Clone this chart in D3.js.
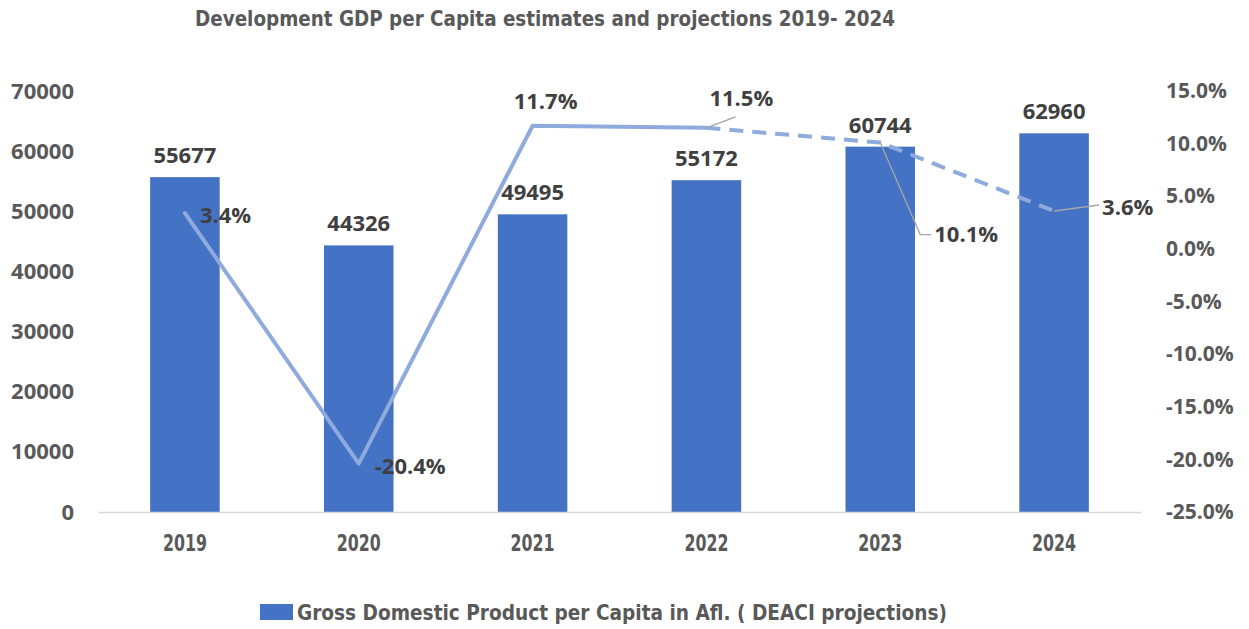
<!DOCTYPE html>
<html>
<head>
<meta charset="utf-8">
<script src="https://cdn.jsdelivr.net/npm/d3@7"></script>
<style>
  html, body { margin: 0; padding: 0; background: #fff; }
  svg { display: block; }
</style>
</head>
<body>
<svg id="chart" width="1249" height="629"></svg>
<script>
// ---- data ----
const years = ["2019", "2020", "2021", "2022", "2023", "2024"];
const gdpPerCapita = [55677, 44326, 49495, 55172, 60744, 62960];
const growthPct = [3.4, -20.4, 11.7, 11.5, 10.1, 3.6];
const projectedFrom = "2022"; // line dashed from this year on
const leftTicks = [0, 10000, 20000, 30000, 40000, 50000, 60000, 70000];
const rightTicks = [-25, -20, -15, -10, -5, 0, 5, 10, 15];
const titleText = "Development GDP per Capita estimates and projections 2019- 2024";
const legendText = "Gross Domestic Product per Capita  in Afl. ( DEACI projections)";

// ---- layout / style ----
const W = 1249, H = 629;
const plot = { left: 98, right: 1141, top: 91, bottom: 512 };
const barColor = "#4472c4";
const lineColor = "#8faadc";
const tickColor = "#595959";
const labelColor = "#404040";
const numFont = "'Open Sans', 'Noto Sans', sans-serif";
const narrowFont = "'Liberation Sans Narrow', 'DejaVu Sans Condensed', 'Open Sans', sans-serif";

// label offsets for line labels (dx, dy relative to point, anchor, leader)
const lineLabelPlacement = [
  { dx: 15, dy: 2, anchor: "start", leader: null },
  { dx: 16, dy: 2, anchor: "start", leader: null },
  { dx: 13, dy: -25, anchor: "middle", leader: null },
  { dx: 3, dy: -30, anchor: "start", leader: [[0, 0], [29, -11]] },
  { dx: 54, dy: 92, anchor: "start", leader: [[0, 0], [40, 92], [51, 92]] },
  { dx: 48, dy: -4, anchor: "start", leader: [[0, 0], [45, -6]] }
];

const svg = d3.select("#chart");

const x = d3.scaleBand().domain(years).range([plot.left, plot.right])
  .paddingInner(0.6).paddingOuter(0.3);
const yL = d3.scaleLinear().domain([0, 70000]).range([plot.bottom, plot.top]);
const yR = d3.scaleLinear().domain([-25, 15]).range([plot.bottom, plot.top]);
const cx = d => x(d) + x.bandwidth() / 2;

// title
svg.append("text")
  .attr("x", 195).attr("y", 26)
  .attr("font-family", narrowFont).attr("font-weight", "bold")
  .attr("font-size", 22).attr("fill", tickColor)
  .attr("textLength", 700).attr("lengthAdjust", "spacingAndGlyphs")
  .text(titleText);

// left axis
const gL = svg.append("g").attr("transform", `translate(${plot.left - 24},0)`)
  .call(d3.axisLeft(yL).tickValues(leftTicks).tickSize(0).tickPadding(0).tickFormat(d => String(d)));
gL.select(".domain").remove();
gL.selectAll("text").attr("font-family", numFont).attr("font-weight", "bold")
  .attr("font-size", 22).attr("fill", tickColor);

// right axis
const gR = svg.append("g").attr("transform", `translate(${plot.right + 25},0)`)
  .call(d3.axisRight(yR).tickValues(rightTicks).tickSize(0).tickPadding(0).tickFormat(d => d.toFixed(1) + "%"));
gR.select(".domain").remove();
gR.selectAll("text").attr("font-family", numFont).attr("font-weight", "bold")
  .attr("font-size", 21).attr("fill", tickColor);

// bars
svg.append("g").selectAll("rect").data(years).join("rect")
  .attr("x", d => x(d))
  .attr("width", x.bandwidth())
  .attr("y", (d, i) => yL(gdpPerCapita[i]))
  .attr("height", (d, i) => yL(0) - yL(gdpPerCapita[i]))
  .attr("fill", barColor);

// x axis
const gX = svg.append("g").attr("transform", `translate(0,${plot.bottom})`)
  .call(d3.axisBottom(x).tickSize(0).tickPadding(23));
gX.select(".domain").attr("stroke", "#d9d9d9").attr("stroke-width", 1.3);
gX.selectAll("text").attr("font-family", narrowFont).attr("font-weight", "bold")
  .attr("font-size", 23).attr("fill", tickColor)
  .attr("textLength", 44).attr("lengthAdjust", "spacingAndGlyphs");

// bar value labels
svg.append("g").selectAll("text").data(years).join("text")
  .attr("x", d => cx(d))
  .attr("y", (d, i) => yL(gdpPerCapita[i]) - 14)
  .attr("text-anchor", "middle")
  .attr("font-family", numFont).attr("font-weight", "bold")
  .attr("font-size", 22).attr("fill", labelColor)
  .text((d, i) => gdpPerCapita[i]);

// growth line
const pts = years.map((d, i) => ({ year: d, v: growthPct[i] }));
const splitIdx = years.indexOf(projectedFrom);
const line = d3.line().x(d => cx(d.year)).y(d => yR(d.v));
svg.append("path").datum(pts.slice(0, splitIdx + 1))
  .attr("d", line).attr("fill", "none").attr("stroke", lineColor)
  .attr("stroke-width", 4).attr("stroke-linejoin", "round").attr("stroke-linecap", "round");
svg.append("path").datum(pts.slice(splitIdx))
  .attr("d", line).attr("fill", "none").attr("stroke", lineColor)
  .attr("stroke-width", 4).attr("stroke-dasharray", "14,9").attr("stroke-linejoin", "round");

// line labels with leaders
const gLab = svg.append("g");
pts.forEach((p, i) => {
  const pl = lineLabelPlacement[i];
  const px = cx(p.year), py = yR(p.v);
  if (pl.leader) {
    gLab.append("path")
      .attr("d", d3.line()(pl.leader.map(([a, b]) => [px + a, py + b])))
      .attr("fill", "none").attr("stroke", "#a6a6a6").attr("stroke-width", 1.3);
  }
  gLab.append("text")
    .attr("x", px + pl.dx).attr("y", py + pl.dy)
    .attr("dy", "0.36em")
    .attr("text-anchor", pl.anchor)
    .attr("font-family", numFont).attr("font-weight", "bold")
    .attr("font-size", 22).attr("fill", labelColor)
    .text(p.v.toFixed(1) + "%");
});

// legend
svg.append("rect").attr("x", 260).attr("y", 604).attr("width", 33).attr("height", 16).attr("fill", barColor);
svg.append("text")
  .attr("x", 297).attr("y", 620)
  .attr("font-family", narrowFont).attr("font-weight", "bold")
  .attr("font-size", 22).attr("fill", tickColor)
  .attr("textLength", 650).attr("lengthAdjust", "spacingAndGlyphs")
  .text(legendText);
</script>
</body>
</html>
